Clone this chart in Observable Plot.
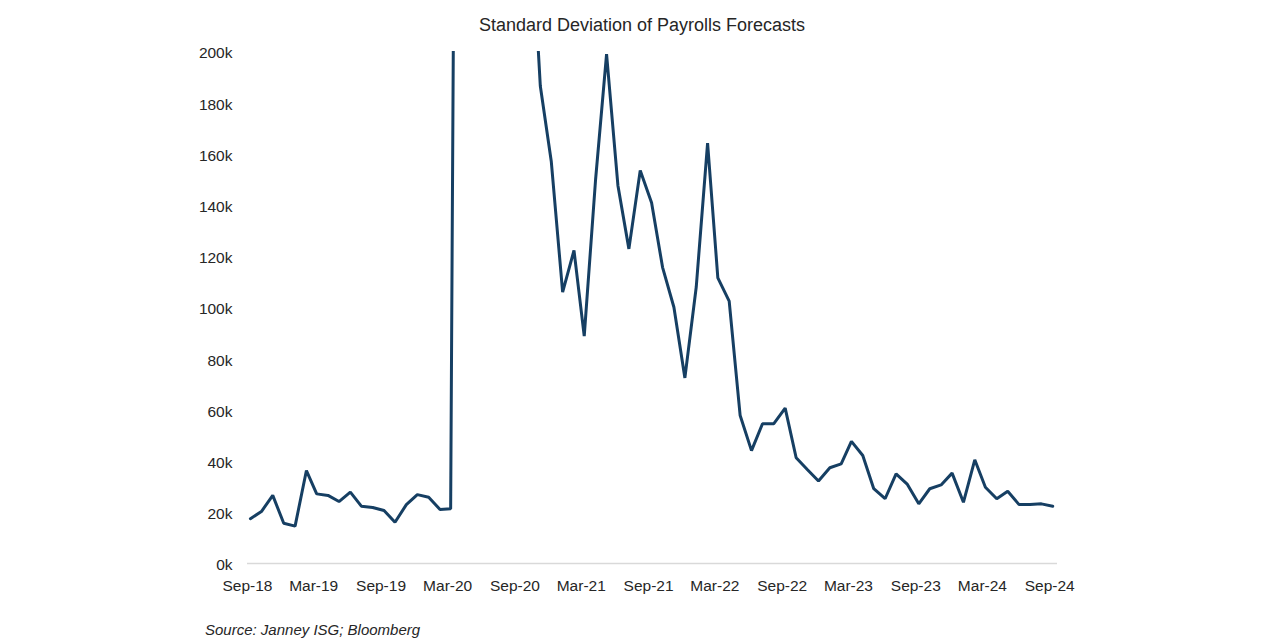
<!DOCTYPE html>
<html>
<head>
<meta charset="utf-8">
<script src="https://cdn.jsdelivr.net/npm/d3@7"></script>
<script src="https://cdn.jsdelivr.net/npm/@observablehq/plot@0.6"></script>
<style>
  html, body { margin: 0; padding: 0; background: #fff; }
  #wrap { position: relative; width: 1280px; height: 640px; font-family: "Liberation Sans", Arial, sans-serif; color: #262626; }
  #title { position: absolute; top: 16px; left: 642px; transform: translateX(-50%); font-size: 18px; line-height: 18px; white-space: nowrap; }
  #source { position: absolute; top: 622px; left: 205px; font-size: 15px; line-height: 15px; font-style: italic; white-space: nowrap; color: #262626; }
  #chart { position: absolute; top: 0; left: 0; }
</style>
</head>
<body>
<div id="wrap">
  <div id="chart"></div>
  <div id="title">Standard Deviation of Payrolls Forecasts</div>
  <div id="source">Source: Janney ISG; Bloomberg</div>
</div>
<script>
// Monthly observations, Sep-2018 .. Sep-2024 (values in thousands)
const startMonth = "2018-09-01";
const values = [
  17.5, 20.3, 26.6, 15.7,                                   // Sep-Dec 2018
  14.6, 36.3, 27.2, 26.6, 24.2, 27.9, 22.4, 21.9, 20.7, 16.1, 23.0, 26.9, // 2019
  25.9, 21.1, 21.4, 790, 1500, 900, 600, 400, 330, 265, 186.5, 157,       // 2020
  106, 122.3, 88.8, 150, 199, 147.7, 122.9, 153.5, 140.9, 115.7, 100.1, 72.5, // 2021
  108, 164.2, 111.6, 102.5, 57.8, 44.1, 54.6, 54.6, 60.7, 41.3, 36.6, 32.2,   // 2022
  37.4, 38.9, 47.7, 42.2, 29.2, 25.3, 35.0, 30.9, 23.3, 29.2, 30.7, 35.3,     // 2023
  23.9, 40.5, 29.8, 25.3, 28.2, 23.0, 23.0, 23.3, 22.4                        // Jan-Sep 2024
];
const yTicks = [0, 20, 40, 60, 80, 100, 120, 140, 160, 180, 200];
const xTickLabels = ["Sep-18","Mar-19","Sep-19","Mar-20","Sep-20","Mar-21","Sep-21","Mar-22","Sep-22","Mar-23","Sep-23","Mar-24","Sep-24"];

const months = d3.utcMonth.range(new Date(startMonth), d3.utcMonth.offset(new Date(startMonth), values.length));
const data = months.map((d, i) => ({date: d, value: values[i]}));
const fmt = d3.utcFormat("%b-%y");
const xTicks = months.filter(d => xTickLabels.includes(fmt(d)));

const chart = Plot.plot({
  width: 1280,
  height: 640,
  marginLeft: 247,
  marginRight: 223,
  marginTop: 51,
  marginBottom: 77,
  style: {fontFamily: "'Liberation Sans', Arial, sans-serif", fontSize: "15.5px", color: "#262626", background: "transparent"},
  x: {type: "utc", domain: [new Date(Date.UTC(2018, 7, 24)), new Date(Date.UTC(2024, 8, 14))]},
  y: {domain: [0, 200]},
  marks: [
    Plot.ruleY([0], {stroke: "#d9d9d9", strokeWidth: 1.5}),
    Plot.axisY({ticks: yTicks, tickSize: 0, tickPadding: 15, tickFormat: d => `${d}k`, label: null, dy: 2, fill: "#262626"}),
    Plot.axisX({ticks: xTicks, tickSize: 0, tickPadding: 16, tickFormat: fmt, label: null, dx: -3, fill: "#262626"}),
    Plot.lineY(data, {x: "date", y: "value", stroke: "#163f63", strokeWidth: 3, clip: true, strokeLinejoin: "miter"})
  ]
});
document.getElementById("chart").appendChild(chart);
</script>
</body>
</html>
